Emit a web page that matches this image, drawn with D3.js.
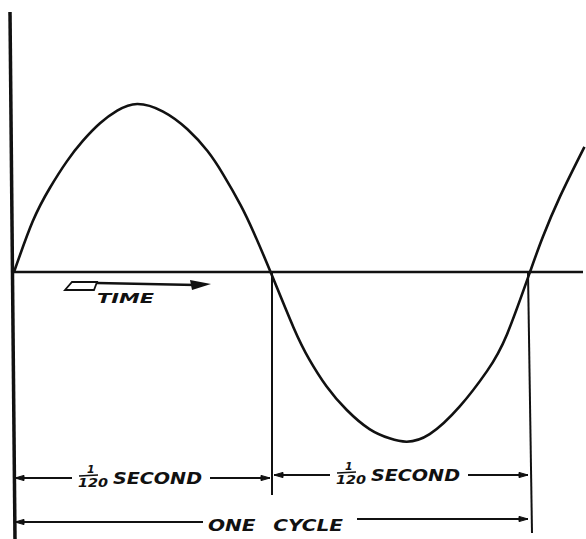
<!DOCTYPE html>
<html>
<head>
<meta charset="utf-8">
<script src="https://cdn.jsdelivr.net/npm/d3@7"></script>
<style>
  html, body { margin: 0; padding: 0; background: #fff; }
  svg { display: block; }
  text { font-family: "DejaVu Sans", sans-serif; font-weight: bold; font-style: italic; fill: #111; }
</style>
</head>
<body>
<script>
// Phase angle (degrees) of each traced point on the alternating-current wave
const phaseDeg = [0, 13, 25, 37, 48, 60, 72, 86, 104, 121, 135, 146, 158, 167, 179,
                  195, 206, 218, 232, 248, 262, 274, 290, 311, 330, 344, 360, 369, 381, 398];
// Instantaneous value (fraction of peak) at each of those phases
const voltage = [0, 0.30, 0.50, 0.66, 0.78, 0.885, 0.96, 1.0, 0.955, 0.85, 0.72, 0.58, 0.40, 0.24, 0,
                 -0.33, -0.52, -0.68, -0.82, -0.935, -0.99, -1.01, -0.965, -0.80, -0.59, -0.37, 0, 0.21, 0.45, 0.745];

// Half-cycle boundaries (degrees) and their labels
const halfStarts = [0, 180];
const halfEnds = [180, 360];
const halfNumerators = ["1", "1"];
const halfDenominators = ["120", "120"];
const halfUnits = ["SECOND", "SECOND"];
const cycleLabel = "ONE CYCLE";
const timeLabel = "TIME";

const W = 586, H = 539;
const ink = "#111";

const svg = d3.select("body").append("svg").attr("width", W).attr("height", H);

const x = d3.scaleLinear().domain([0, 360]).range([14, 530]);
const y = d3.scaleLinear().domain([-1, 1]).range([440, 104]);

// vertical (amplitude) axis
svg.append("path")
  .attr("d", `M${x(0) - 4},12 L${x(0) + 1},${H}`)
  .attr("stroke", ink).attr("stroke-width", 3.5).attr("fill", "none");

// horizontal (time) axis
svg.append("line")
  .attr("x1", x(0)).attr("x2", 583)
  .attr("y1", y(0)).attr("y2", y(0))
  .attr("stroke", ink).attr("stroke-width", 2.6);

// the wave
const pts = phaseDeg.map((p, i) => [p, voltage[i]]);
svg.append("path")
  .datum(pts)
  .attr("d", d3.line().x(d => x(d[0])).y(d => y(d[1])).curve(d3.curveNatural))
  .attr("fill", "none").attr("stroke", ink).attr("stroke-width", 2.6);

// extension lines at the zero crossings
svg.append("line")
  .attr("x1", x(180)).attr("x2", x(180))
  .attr("y1", y(0)).attr("y2", 495)
  .attr("stroke", ink).attr("stroke-width", 2);
svg.append("line")
  .attr("x1", x(360) - 2).attr("x2", x(360) + 2)
  .attr("y1", y(0)).attr("y2", 533)
  .attr("stroke", ink).attr("stroke-width", 2);

// arrowhead helper: tip at (tx, ty), pointing in direction dir (+1 right, -1 left)
function arrowHead(tx, ty, dir, len = 9, hw = 2.6) {
  svg.append("path")
    .attr("d", `M${tx},${ty} L${tx - dir * len},${ty - hw} L${tx - dir * len},${ty + hw} Z`)
    .attr("fill", ink).attr("stroke", ink).attr("stroke-width", 1);
}

// half-cycle dimension lines
const halfY = [478, 475];
halfStarts.forEach((s, i) => {
  const x0 = x(s) + (i === 0 ? 1 : 2);
  const x1 = x(halfEnds[i]) - 2;
  const yy = halfY[i];
  const mid = (x(s) + x(halfEnds[i])) / 2 - 3;
  const fracW = 30, gap = 5, unitW = 89;
  const total = fracW + gap + unitW;
  const left = mid - total / 2;
  const right = mid + total / 2;

  svg.append("line").attr("x1", x0).attr("x2", left - 6).attr("y1", yy).attr("y2", yy)
    .attr("stroke", ink).attr("stroke-width", 1.8);
  svg.append("line").attr("x1", right + 8).attr("x2", x1).attr("y1", yy).attr("y2", yy)
    .attr("stroke", ink).attr("stroke-width", 1.8);
  arrowHead(x0, yy, -1);
  arrowHead(x1, yy, 1);

  // fraction
  svg.append("text").attr("x", left + 9).attr("y", yy - 5)
    .attr("font-size", 11).text(halfNumerators[i]);
  svg.append("line").attr("x1", left + 1).attr("x2", left + 20)
    .attr("y1", yy - 2).attr("y2", yy - 3)
    .attr("stroke", ink).attr("stroke-width", 1.6);
  svg.append("text").attr("x", left).attr("y", yy + 9)
    .attr("font-size", 12).attr("textLength", fracW).attr("lengthAdjust", "spacingAndGlyphs")
    .text(halfDenominators[i]);
  // unit
  svg.append("text").attr("x", left + fracW + gap).attr("y", yy + 6)
    .attr("font-size", 16).attr("textLength", unitW).attr("lengthAdjust", "spacingAndGlyphs")
    .text(halfUnits[i]);
});

// full-cycle dimension line
{
  const yL = 522, yR = 519;
  const x0 = x(0) + 1, x1 = x(360) - 2;
  const tl = 208, tw = 135;
  svg.append("line").attr("x1", x0).attr("x2", tl - 5).attr("y1", yL).attr("y2", yL)
    .attr("stroke", ink).attr("stroke-width", 1.8);
  svg.append("line").attr("x1", tl + tw + 14).attr("x2", x1).attr("y1", yR).attr("y2", yR)
    .attr("stroke", ink).attr("stroke-width", 1.8);
  arrowHead(x0, yL, -1);
  arrowHead(x1, yR, 1);
  svg.append("text").attr("x", tl).attr("y", 531)
    .attr("font-size", 15).attr("textLength", tw).attr("lengthAdjust", "spacingAndGlyphs")
    .attr("word-spacing", 8)
    .text(cycleLabel);
}

// direction-of-time arrow
svg.append("path")
  .attr("d", "M72,282 L97,282 L94,290 L65,290 Z")
  .attr("fill", "none").attr("stroke", ink).attr("stroke-width", 1.8);
svg.append("line").attr("x1", 97).attr("x2", 196).attr("y1", 283).attr("y2", 285)
  .attr("stroke", ink).attr("stroke-width", 2.4);
svg.append("path")
  .attr("d", "M211,284 L190,280 L192,290 Z")
  .attr("fill", ink);
svg.append("text").attr("x", 97).attr("y", 303)
  .attr("font-size", 14).attr("textLength", 57).attr("lengthAdjust", "spacingAndGlyphs")
  .text(timeLabel);
</script>
</body>
</html>
